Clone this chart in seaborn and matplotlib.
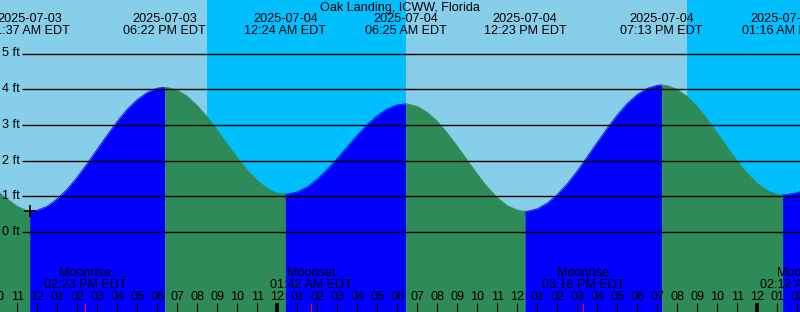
import numpy as np
import pandas as pd
import matplotlib
matplotlib.use("Agg")
import matplotlib.pyplot as plt
import seaborn as sns

# ---------------- data ----------------
title = "Oak Landing, ICWW, Florida"
base = pd.Timestamp("2025-07-03 00:00")

# half-hourly sample times (hours since 2025-07-03 00:00) and tide heights (ft)
sample_hours = [10 + 0.5 * i for i in range(83)]
sample_heights = [1.15, 0.92, 0.72, 0.59, 0.61, 0.72, 0.93, 1.20, 1.54, 1.92,
                  2.32, 2.72, 3.10, 3.44, 3.71, 3.91, 4.03, 4.05, 3.97, 3.80,
                  3.54, 3.22, 2.85, 2.46, 2.08, 1.73, 1.44, 1.22, 1.09, 1.06,
                  1.12, 1.26, 1.48, 1.75, 2.06, 2.39, 2.71, 3.01, 3.26, 3.45,
                  3.56, 3.59, 3.52, 3.35, 3.10, 2.77, 2.40, 2.01, 1.62, 1.26,
                  0.96, 0.74, 0.61, 0.58, 0.65, 0.81, 1.05, 1.35, 1.71, 2.11,
                  2.51, 2.91, 3.28, 3.60, 3.85, 4.02, 4.11, 4.10, 3.99, 3.79,
                  3.51, 3.16, 2.77, 2.37, 1.99, 1.64, 1.36, 1.16, 1.05, 1.05,
                  1.10, 1.22, 1.38]

# high / low tide events
event_times = ["2025-07-03 11:37", "2025-07-03 18:22", "2025-07-04 00:24",
               "2025-07-04 06:25", "2025-07-04 12:23", "2025-07-04 19:13",
               "2025-07-05 01:16"]
event_heights = [0.58, 4.05, 1.06, 3.59, 0.58, 4.12, 1.04]

# night periods (sunset -> sunrise)
night_start = ["2025-07-03 20:29", "2025-07-04 20:29"]
night_end = ["2025-07-04 06:26", "2025-07-05 06:30"]

# moon events
moon_times = ["2025-07-03 14:23", "2025-07-04 01:42", "2025-07-04 15:18", "2025-07-05 02:12"]
moon_labels = ["Moonrise", "Moonset", "Moonrise", "Moonset"]

y_ticks = [0, 1, 2, 3, 4, 5]

# ---------------- helpers ----------------
def hrs(s):
    return (pd.Timestamp(s) - base).total_seconds() / 3600.0

def fmt_time(s):
    return pd.Timestamp(s).strftime("%I:%M %p") + " EDT"

PX_PER_H = 20.0
OFFSET = -202.7
FT_PX = 35.7
ZERO_Y = 232.0
W, H = 800, 312

def t_of_px(px):
    return (px - OFFSET) / PX_PER_H

ev_t = [hrs(s) for s in event_times]

df = pd.DataFrame({"t": list(map(float, sample_hours)) + ev_t,
                   "h": sample_heights + event_heights}).sort_values("t").reset_index(drop=True)

plt.rcParams["font.family"] = ["Liberation Sans", "DejaVu Sans"]
FS = 12.6 * 72 / 100

fig = plt.figure(figsize=(8, 3.12), dpi=100)
fig.patch.set_facecolor("#87CEEB")
ax = fig.add_axes([0, 0, 1, 1])
ax.set_xlim(t_of_px(0), t_of_px(W))
ymin = (ZERO_Y - H) / FT_PX
ymax = ZERO_Y / FT_PX
ax.set_ylim(ymin, ymax)
ax.axis("off")

# night shading
for s, e in zip(night_start, night_end):
    ax.axvspan(hrs(s), hrs(e), color="#00BFFF", lw=0, zorder=0)

# fill tide segments: rising = blue, falling = green
bounds = [df["t"].min()] + ev_t + [df["t"].max()]
for a, b in zip(bounds[:-1], bounds[1:]):
    seg = df[(df["t"] >= a) & (df["t"] <= b)]
    if len(seg) < 2:
        continue
    rising = seg["h"].iloc[-1] > seg["h"].iloc[0]
    col = "#0000FF" if rising else "#2E8B57"
    ax.fill_between(seg["t"], seg["h"], ymin, color=col, lw=0, zorder=1)
    sns.lineplot(data=seg, x="t", y="h", ax=ax, color=col, lw=0.6, zorder=1,
                 estimator=None, sort=True, legend=False)

# horizontal grid lines & labels
for v in y_ticks:
    ax.hlines(v, t_of_px(22), t_of_px(W), color="black", lw=1.0, zorder=3)
    ax.text(2 / W, v, f"{v} ft", transform=ax.get_yaxis_transform(),
            ha="left", va="center", fontsize=FS, zorder=4)

xt = ax.get_xaxis_transform()
def yf(py):
    return 1 - py / H

# marker at first low
ax.plot([ev_t[0]], [event_heights[0]], marker="+", color="black", ms=8, mew=1.2, zorder=5)

# top event labels
for s in event_times:
    t = hrs(s)
    ax.text(t, yf(19.5), pd.Timestamp(s).strftime("%Y-%m-%d"), transform=xt,
            ha="center", va="center", fontsize=FS, zorder=5)
    ax.text(t, yf(31.5), fmt_time(s), transform=xt,
            ha="center", va="center", fontsize=FS, zorder=5)

fig.text(0.5, 1 - 7.5 / H, title, ha="center", va="center", fontsize=FS)

# hour ticks & labels
for hh in range(10, 52):
    lab = f"{(hh % 12) or 12:02d}"
    ax.text(hh, yf(297.5), lab, transform=xt, ha="center", va="center", fontsize=FS, zorder=5)
    lw = 2.6 if hh % 24 == 0 else 0.8
    ax.vlines(hh, 0, yf(303), transform=xt, color="black", lw=lw, zorder=5)

# moon events
for s, lab in zip(moon_times, moon_labels):
    t = hrs(s)
    ax.vlines(t, 0, yf(303), transform=xt, color="red", lw=0.8, zorder=5)
    ax.text(t, yf(273.5), lab, transform=xt, ha="center", va="center", fontsize=FS, zorder=5)
    ax.text(t, yf(285.5), fmt_time(s), transform=xt, ha="center", va="center", fontsize=FS, zorder=5)

fig.savefig("out.png", dpi=100, facecolor=fig.get_facecolor())
